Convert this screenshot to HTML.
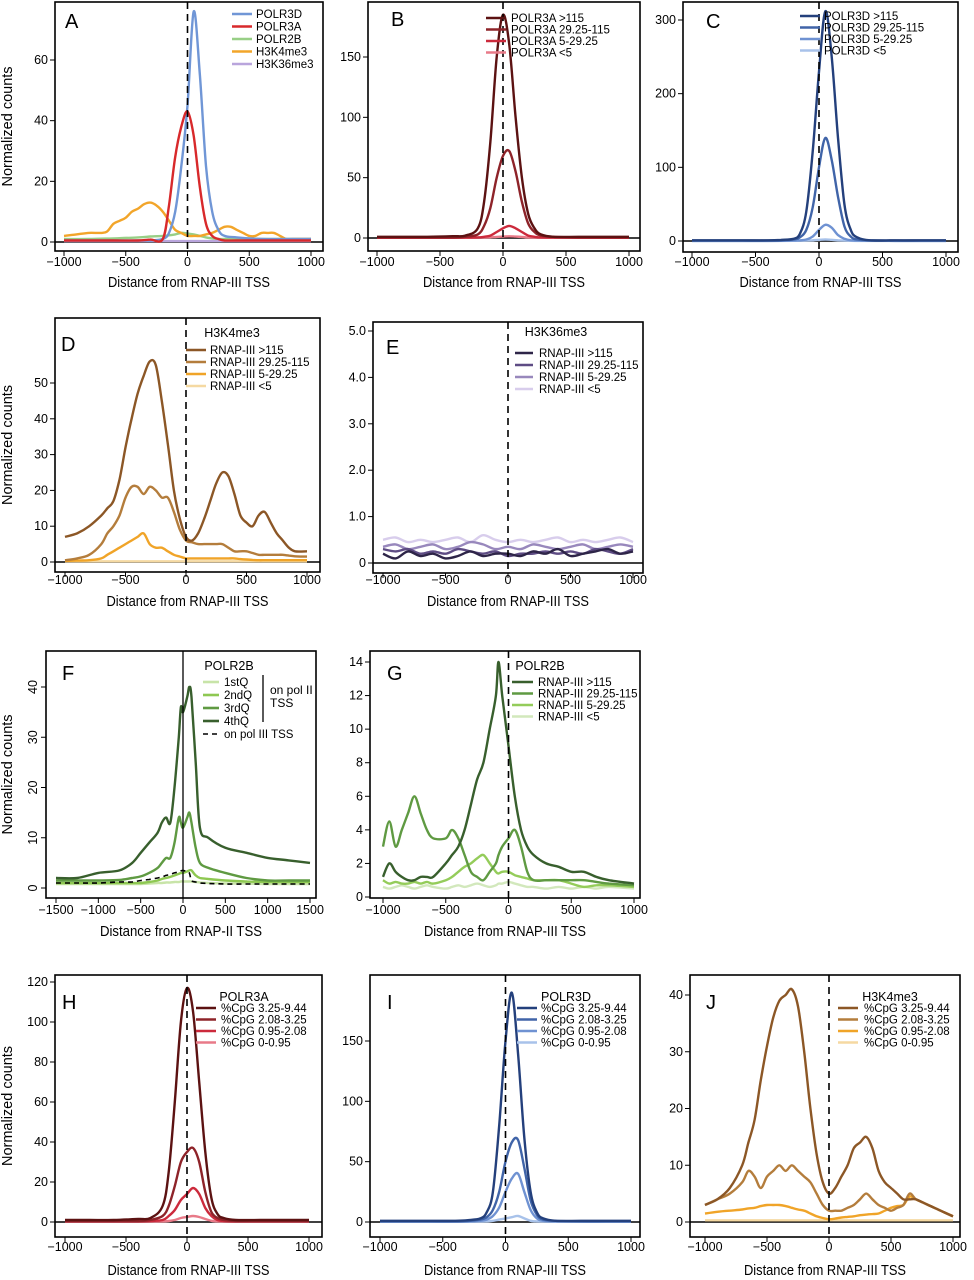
<!DOCTYPE html>
<html><head><meta charset="utf-8">
<style>
body{margin:0;background:#fff;}
svg{display:block;font-family:"Liberation Sans",Arial,sans-serif;}
</style></head>
<body>
<svg id="fig" width="974" height="1280" viewBox="0 0 974 1280" xmlns="http://www.w3.org/2000/svg"></svg>
<script>
// ---------- data ----------
const xPk = [-1000,-800,-600,-400,-300,-200,-150,-100,-50,0,50,100,150,200,250,300,400,600,800,1000];
const xBroad = [-1000,-900,-800,-700,-650,-600,-550,-500,-450,-400,-350,-300,-250,-200,-150,-100,-50,0,50,100,150,200,250,300,350,400,450,500,550,600,650,700,750,800,850,900,1000];
const xNoise = [-1000,-900,-800,-700,-600,-500,-400,-300,-200,-100,0,100,200,300,400,500,600,700,800,900,1000];
const xF = [-1500,-1250,-1000,-750,-600,-500,-400,-300,-250,-200,-150,-100,-50,-25,0,50,75,100,150,200,300,500,750,1000,1250,1500];
const xG = [-1000,-950,-900,-850,-800,-750,-700,-650,-600,-500,-450,-400,-350,-300,-250,-200,-150,-100,-80,-50,0,50,100,150,200,300,400,500,600,700,800,1000];

// A
const aPolr3d = [0.5,0.5,0.5,0.5,0.5,1,3,10,25,45,76,55,25,10,4,2,1.5,1,1,1];
const aPolr3a = [0.5,0.5,0.5,0.5,0.8,1,12,28,38,43,35,18,6,2,1,0.5,0.5,0.5,0.5,0.5];
const aPolr2b = [1,1,1.2,1.5,1.8,2,2.2,2.5,3,2.8,2.5,2,1.5,1.2,1,1,1,1,1,1];
const aH3k4 = [2,2.5,3,3,3.5,6,7,8,10,11,12.5,13,12,10,7,4,3,2,2,2,2.5,3,4,5,5,4,3,2,2,3,3,3,2,1,1,1,1];
const aH3k36 = [0.3,0.3,0.3,0.3,0.3,0.3,0.3,0.3,0.3,0.3,0.3,0.3,0.3,0.3,0.3,0.3,0.3,0.3,0.3,0.3];
// B
const bHi = [1,1,1,1.5,2,8,30,80,150,185,160,100,50,20,8,3,1,1,1,1];
const bMid = [0.5,0.5,0.5,0.5,1,3,10,25,50,68,72,55,30,12,5,2,1,0.5,0.5,0.5];
const bLow = [0.2,0.2,0.2,0.2,0.3,0.5,1,2,5,8,10,8,5,2,1,0.5,0.3,0.2,0.2,0.2];
const bVlow = [0.2,0.2,0.2,0.2,0.2,0.3,0.4,0.6,0.9,1.2,1.4,1.2,0.9,0.5,0.3,0.2,0.2,0.2,0.2,0.2];
// C
const cHi = [1,1,1,1,1.5,3,10,40,120,230,312,250,140,50,15,5,1,1,1,1];
const cMid = [0.5,0.5,0.5,0.5,0.8,2,5,15,45,100,140,110,60,20,6,2,1,0.5,0.5,0.5];
const cLow = [0.2,0.2,0.2,0.2,0.3,0.5,1,2,6,15,22,18,8,3,1,0.5,0.3,0.2,0.2,0.2];
const cVlow = [0.2,0.2,0.2,0.2,0.2,0.3,0.4,0.6,1,1.6,2,1.6,1,0.5,0.3,0.2,0.2,0.2,0.2,0.2];
// D
const dHi = [7,8,10,13,15,17,23,32,40,47,52,56,55,45,33,20,12,7,6,8,12,17,22,25,24,19,13,11,10,13,14,11,8,6,4,3,3];
const dMid = [0.5,1,2,5,8,10,13,18,21,21,19,21,20,18,18,14,9,6,5.5,5,5,5,5,5,4,3,3,3,2.5,2,2,2,2,2,1.8,1.6,1.5];
const dLow = [0.3,0.4,0.5,1,2,3,4,5,6,7,8,5,4,4,3,2,1.5,1,1,1,1,1,1,1,1,1,0.8,0.7,0.6,0.5,0.5,0.5,0.5,0.5,0.5,0.5,0.5];
const dVlow = [0.2,0.2,0.2,0.2,0.2,0.2,0.2,0.2,0.2,0.2,0.2,0.2,0.2,0.2,0.2,0.2,0.2,0.2,0.2,0.2,0.2,0.2,0.2,0.2,0.2,0.2,0.2,0.2,0.2,0.2,0.2,0.2,0.2,0.2,0.2,0.2,0.2];
// E
const eHi = [0.2,0.1,0.25,0.15,0.2,0.1,0.15,0.25,0.15,0.2,0.2,0.15,0.25,0.2,0.3,0.15,0.2,0.25,0.3,0.2,0.25];
const eMid = [0.3,0.25,0.3,0.2,0.25,0.2,0.3,0.25,0.2,0.25,0.15,0.2,0.2,0.25,0.2,0.25,0.2,0.3,0.25,0.2,0.3];
const eLow = [0.35,0.4,0.3,0.35,0.4,0.3,0.35,0.45,0.4,0.3,0.35,0.3,0.4,0.35,0.3,0.35,0.4,0.3,0.35,0.4,0.35];
const eVlow = [0.5,0.55,0.45,0.5,0.45,0.5,0.55,0.45,0.6,0.5,0.45,0.5,0.45,0.5,0.55,0.45,0.5,0.45,0.5,0.55,0.45];
// F
const f4 = [2,2,3,3.5,5,7,9,11,13,14,13,20,30,36,35,38,40,38,25,12,10,8,7,6,5.5,5];
const f3 = [1.5,1.5,1.5,1.6,2,2.3,3,4,5,6,6,9,14,13,12,14,15,13,8,5,4,3,2,1.5,1.5,1.5];
const f2 = [1,1,1,1,1,1,1.2,1.5,1.8,2,2.2,2.5,2.8,3,3,3.3,3.5,3.5,2.5,2,1.8,1.5,1.3,1.2,1.2,1.2];
const f1 = [0.8,0.8,0.8,0.8,0.8,0.8,0.9,1,1,1.1,1.1,1.2,1.2,1.3,1.3,1.3,1.3,1.3,1.2,1.1,1,0.9,0.9,0.8,0.8,0.8];
const fIII = [1,1,1,1.2,1.2,1.5,1.7,2,2.2,2.5,2.7,3,3.2,3.4,3.5,3.2,3,1.5,1.2,1,0.9,0.8,0.8,0.8,0.8,0.8];
// G
const gHi = [1.2,2,1.5,1.2,1,1,1.2,1.2,1.2,2,2.5,3,4,5.5,7,8,10,12,14,12,9,6,4,3,2.5,2,1.8,1.5,1.5,1.2,1,0.8];
const gMid = [3,4.5,3,4,5,6,5,4,3.5,3.5,4,3.5,2.5,1.5,1.2,1,1.5,2,2.5,3,3.5,4,3,1.5,1,1,1,1,1,0.9,0.8,0.7];
const gLow = [1,0.8,0.9,0.8,0.8,0.9,0.8,0.9,0.8,1,1.2,1.5,1.8,2,2.3,2.5,2,1.5,1.4,1.5,1.5,1.3,1.2,1.1,1,1,1,0.8,0.6,0.7,0.7,0.6];
const gVlow = [0.6,0.5,0.6,0.7,0.6,0.5,0.6,0.7,0.6,0.5,0.6,0.7,0.6,0.7,0.8,0.7,0.6,0.7,0.8,0.8,0.9,0.8,0.7,0.6,0.6,0.5,0.6,0.5,0.6,0.5,0.6,0.5];
// H
const hHi = [1,1,1,1.5,2,8,25,60,100,117,105,70,35,12,4,2,1,1,1,1];
const hMid = [0.5,0.5,0.5,0.5,1,3,8,18,30,35,37,30,15,5,2,1,0.5,0.5,0.5,0.5];
const hLow = [0.3,0.3,0.3,0.3,0.5,1,3,6,11,14,17,14,7,3,1,0.5,0.3,0.3,0.3,0.3];
const hVlow = [0.2,0.2,0.2,0.2,0.2,0.3,0.5,1,2,2.5,3,2.5,1.5,0.6,0.3,0.2,0.2,0.2,0.2,0.2];
// I
const iHi = [1,1,1,1,1.5,3,8,25,80,150,190,140,70,25,8,3,1,1,1,1];
const iMid = [0.5,0.5,0.5,0.5,0.8,2,4,10,25,50,66,68,45,18,6,2,1,0.5,0.5,0.5];
const iLow = [0.3,0.3,0.3,0.3,0.5,1,2,5,12,25,36,40,25,10,3,1,0.5,0.3,0.3,0.3];
const iVlow = [0.2,0.2,0.2,0.2,0.2,0.3,0.5,1,2,3,4,5,3,1,0.5,0.3,0.2,0.2,0.2,0.2];
// J
const jHi = [3,4,6,10,14,18,25,31,36,39,40,41,38,30,20,12,7,5,6,8,10,13,14,15,13,9,7,6,5,4,4,4,3.5,3,2.5,2,1];
const jMid = [3,4,5,7,9,8,6,8,9,10,9,10,9,8,7,5,3,2,2,2,2.5,3,4,5,4,3,2.5,2,2.5,3,5,4,3.5,3,2.5,2,1];
const jLow = [1.5,1.8,2,2.2,2.4,2.5,2.8,3,3,3,2.8,2.5,2.2,2,1.5,1,0.7,0.5,0.6,0.8,0.9,1,1.2,1.3,1.4,1.5,2,2.5,2.8,3,4.5,4,3.5,3,2.5,2,1];
const jVlow = [0.3,0.3,0.3,0.3,0.3,0.3,0.3,0.3,0.3,0.3,0.3,0.3,0.3,0.3,0.3,0.3,0.3,0.3,0.3,0.3,0.3,0.3,0.3,0.3,0.3,0.3,0.3,0.3,0.3,0.3,0.3,0.3,0.3,0.3,0.3,0.3,0.3];

// tick labels
const xTicksPol3 = ["−1000","−500","0","500","1000"];
const xTickValsPol3 = [-1000,-500,0,500,1000];
const xTicksF = ["−1500","−1000","−500","0","500","1000","1500"];
const xTickValsF = [-1500,-1000,-500,0,500,1000,1500];

// ---------- drawing ----------
const NS = "http://www.w3.org/2000/svg";
const svg = document.getElementById("fig");
function mk(tag, attrs, parent, text) {
  const e = document.createElementNS(NS, tag);
  for (const k in attrs) e.setAttribute(k, attrs[k]);
  if (text !== undefined) e.textContent = text;
  (parent || svg).appendChild(e);
  return e;
}
function smoothPath(pts) {
  let d = "M" + pts[0][0].toFixed(1) + "," + pts[0][1].toFixed(1);
  for (let i = 0; i < pts.length - 1; i++) {
    const p0 = pts[Math.max(0, i - 1)], p1 = pts[i], p2 = pts[i + 1], p3 = pts[Math.min(pts.length - 1, i + 2)];
    const c1x = p1[0] + (p2[0] - p0[0]) / 6, c1y = p1[1] + (p2[1] - p0[1]) / 6;
    const c2x = p2[0] - (p3[0] - p1[0]) / 6, c2y = p2[1] - (p3[1] - p1[1]) / 6;
    d += "C" + c1x.toFixed(1) + "," + c1y.toFixed(1) + " " + c2x.toFixed(1) + "," + c2y.toFixed(1) + " " + p2[0].toFixed(1) + "," + p2[1].toFixed(1);
  }
  return d;
}

const panels = [
 {id:"a", letter:"A", L:[65,10], box:[55,2,323,251], xd:[-1000,1000], xp:[64,311], yd:[0,60], yp:[242,60],
  yt:[0,20,40,60], ytl:["0","20","40","60"], xt:xTickValsPol3, xtl:xTicksPol3, tickY:266, titleY:287, xtitle:"Distance from RNAP-III TSS",
  ytitle:true, vline:"dash", hline:true,
  series:[["polr2b",xPk,aPolr2b,"#98cf86"],["h3k36me3",xPk,aH3k36,"#b9a5dc"],["h3k4me3",xBroad,aH3k4,"#f2a52a"],["polr3d",xPk,aPolr3d,"#7096d6"],["polr3a",xPk,aPolr3a,"#d8292b"]],
  legend:{x1:232,x2:252,tx:256,y:14,dy:12.5,items:[["POLR3D","#7096d6"],["POLR3A","#d8292b"],["POLR2B","#98cf86"],["H3K4me3","#f2a52a"],["H3K36me3","#b9a5dc"]]}},
 {id:"b", letter:"B", L:[391,8], box:[368,2,640,251], xd:[-1000,1000], xp:[377,629], yd:[0,150], yp:[238,57],
  yt:[0,50,100,150], ytl:["0","50","100","150"], xt:xTickValsPol3, xtl:xTicksPol3, tickY:266, titleY:287, xtitle:"Distance from RNAP-III TSS",
  vline:"dash", hline:true,
  series:[["vlow",xPk,bVlow,"#e87a88"],["low",xPk,bLow,"#cc2a3c"],["mid",xPk,bMid,"#8e2329"],["hi",xPk,bHi,"#5c1212"]],
  legend:{x1:486,x2:506,tx:511,y:18,dy:11.5,items:[["POLR3A >115","#5c1212"],["POLR3A 29.25-115","#8e2329"],["POLR3A 5-29.25","#cc2a3c"],["POLR3A <5","#e87a88"]]}},
 {id:"c", letter:"C", L:[706,10], box:[683,2,958,252], xd:[-1000,1000], xp:[692,946], yd:[0,300], yp:[241,20],
  yt:[0,100,200,300], ytl:["0","100","200","300"], xt:xTickValsPol3, xtl:xTicksPol3, tickY:266, titleY:287, xtitle:"Distance from RNAP-III TSS",
  vline:"dash", hline:true,
  series:[["vlow",xPk,cVlow,"#a8c2ea"],["low",xPk,cLow,"#6f92d2"],["mid",xPk,cMid,"#4064a8"],["hi",xPk,cHi,"#24407c"]],
  legend:{x1:800,x2:820,tx:824,y:16,dy:11.5,items:[["POLR3D >115","#24407c"],["POLR3D 29.25-115","#4064a8"],["POLR3D 5-29.25","#6f92d2"],["POLR3D <5","#a8c2ea"]]}},
 {id:"d", letter:"D", L:[61,333], box:[55,318,320,572], xd:[-1000,1000], xp:[65,307], yd:[0,50], yp:[562,383],
  yt:[0,10,20,30,40,50], ytl:["0","10","20","30","40","50"], xt:xTickValsPol3, xtl:xTicksPol3, tickY:584, titleY:606, xtitle:"Distance from RNAP-III TSS",
  ytitle:true, vline:"dash", hline:true, title:["H3K4me3",232,332],
  series:[["vlow",xBroad,dVlow,"#f5d9a2"],["low",xBroad,dLow,"#f0a428"],["mid",xBroad,dMid,"#b47d3c"],["hi",xBroad,dHi,"#8c5726"]],
  legend:{x1:186,x2:206,tx:210,y:350,dy:12,items:[["RNAP-III >115","#8c5726"],["RNAP-III 29.25-115","#b47d3c"],["RNAP-III 5-29.25","#f0a428"],["RNAP-III <5","#f5d9a2"]]}},
 {id:"e", letter:"E", L:[386,336], box:[373,322,643,573], xd:[-1000,1000], xp:[383,633], yd:[0,5], yp:[563,331],
  yt:[0,1,2,3,4,5], ytl:["0","1.0","2.0","3.0","4.0","5.0"], xt:xTickValsPol3, xtl:xTicksPol3, tickY:584, titleY:606, xtitle:"Distance from RNAP-III TSS",
  vline:"dash", hline:true, title:["H3K36me3",556,331],
  series:[["vlow",xNoise,eVlow,"#d8cdec"],["low",xNoise,eLow,"#9888bc"],["mid",xNoise,eMid,"#5e4c84"],["hi",xNoise,eHi,"#2e2548"]],
  legend:{x1:515,x2:533,tx:539,y:353,dy:12,items:[["RNAP-III >115","#2e2548"],["RNAP-III 29.25-115","#5e4c84"],["RNAP-III 5-29.25","#9888bc"],["RNAP-III <5","#d8cdec"]]}},
 {id:"f", letter:"F", L:[62,662], box:[46,651,316,898], xd:[-1500,1500], xp:[56,310], yd:[0,40], yp:[888,687],
  yt:[0,10,20,30,40], ytl:["0","10","20","30","40"], rotY:true, xt:xTickValsF, xtl:xTicksF, tickY:914, titleY:936, xtitle:"Distance from RNAP-II TSS",
  ytitle:true, vline:"solid", title:["POLR2B",229,665],
  series:[["q1",xF,f1,"#c8e4a8"],["q2",xF,f2,"#8ec852"],["q3",xF,f3,"#5f9a42"],["q4",xF,f4,"#385f2d"],["pol3tss",xF,fIII,"#000",true]],
  legend:{x1:203,x2:219,tx:224,y:682,dy:13,items:[["1stQ","#c8e4a8"],["2ndQ","#8ec852"],["3rdQ","#5f9a42"],["4thQ","#385f2d"]]}},
 {id:"g", letter:"G", L:[387,662], box:[370,651,640,898], xd:[-1000,1000], xp:[383,634], yd:[0,14], yp:[897,662],
  yt:[0,2,4,6,8,10,12,14], ytl:["0","2","4","6","8","10","12","14"], xt:xTickValsPol3, xtl:xTicksPol3, tickY:914, titleY:936, xtitle:"Distance from RNAP-III TSS",
  vline:"dash", title:["POLR2B",540,665],
  series:[["vlow",xG,gVlow,"#d2e8bc"],["low",xG,gLow,"#94cc5a"],["mid",xG,gMid,"#5f9a42"],["hi",xG,gHi,"#385f2d"]],
  legend:{x1:512,x2:533,tx:538,y:682,dy:11.5,items:[["RNAP-III >115","#385f2d"],["RNAP-III 29.25-115","#5f9a42"],["RNAP-III 5-29.25","#94cc5a"],["RNAP-III <5","#d2e8bc"]]}},
 {id:"h", letter:"H", L:[62,991], box:[55,975,322,1237], xd:[-1000,1000], xp:[65,309], yd:[0,100], yp:[1222,1022],
  yt:[0,20,40,60,80,100,120], ytl:["0","20","40","60","80","100","120"], xt:xTickValsPol3, xtl:xTicksPol3, tickY:1251, titleY:1275, xtitle:"Distance from RNAP-III TSS",
  ytitle:true, vline:"dash", hline:true, title:["POLR3A",244,996],
  series:[["vlow",xPk,hVlow,"#e87a88"],["low",xPk,hLow,"#cc2a3c"],["mid",xPk,hMid,"#8e2329"],["hi",xPk,hHi,"#5c1212"]],
  legend:{x1:196,x2:216,tx:221,y:1008,dy:11.5,items:[["%CpG 3.25-9.44","#5c1212"],["%CpG 2.08-3.25","#8e2329"],["%CpG 0.95-2.08","#cc2a3c"],["%CpG 0-0.95","#e87a88"]]}},
 {id:"i", letter:"I", L:[387,991], box:[370,975,640,1237], xd:[-1000,1000], xp:[380,631], yd:[0,150], yp:[1222,1041],
  yt:[0,50,100,150], ytl:["0","50","100","150"], xt:xTickValsPol3, xtl:xTicksPol3, tickY:1251, titleY:1275, xtitle:"Distance from RNAP-III TSS",
  vline:"dash", hline:true, title:["POLR3D",566,996],
  series:[["vlow",xPk,iVlow,"#a8c2ea"],["low",xPk,iLow,"#6f92d2"],["mid",xPk,iMid,"#4064a8"],["hi",xPk,iHi,"#24407c"]],
  legend:{x1:517,x2:537,tx:541,y:1008,dy:11.5,items:[["%CpG 3.25-9.44","#24407c"],["%CpG 2.08-3.25","#4064a8"],["%CpG 0.95-2.08","#6f92d2"],["%CpG 0-0.95","#a8c2ea"]]}},
 {id:"j", letter:"J", L:[706,991], box:[690,975,960,1237], xd:[-1000,1000], xp:[705,953], yd:[0,40], yp:[1222,995],
  yt:[0,10,20,30,40], ytl:["0","10","20","30","40"], xt:xTickValsPol3, xtl:xTicksPol3, tickY:1251, titleY:1275, xtitle:"Distance from RNAP-III TSS",
  vline:"dash", hline:true, title:["H3K4me3",890,996],
  series:[["vlow",xBroad,jVlow,"#f5d9a2"],["low",xBroad,jLow,"#f0a428"],["mid",xBroad,jMid,"#b47d3c"],["hi",xBroad,jHi,"#8c5726"]],
  legend:{x1:838,x2:858,tx:864,y:1008,dy:11.5,items:[["%CpG 3.25-9.44","#8c5726"],["%CpG 2.08-3.25","#b47d3c"],["%CpG 0.95-2.08","#f0a428"],["%CpG 0-0.95","#f5d9a2"]]}}
];

panels.forEach(p => {
  const g = mk("g", {});
  
  
  const sx = v => p.xp[0] + (v - p.xd[0]) / (p.xd[1] - p.xd[0]) * (p.xp[1] - p.xp[0]);
  const sy = v => p.yp[0] + (v - p.yd[0]) / (p.yd[1] - p.yd[0]) * (p.yp[1] - p.yp[0]);
  const [l, t, r, b] = p.box;
  if (p.hline) {
    const hl = mk("line", {x1: l, x2: r, y1: sy(0), y2: sy(0), stroke: "#000", "stroke-width": 1.6}, g);
    
    
  }
  p.series.forEach(s => {
    const [nm, xs, ys, col, dashed] = s;
    const pts = xs.map((x, i) => [sx(x), sy(ys[i])]);
    const path = mk("path", {d: smoothPath(pts), fill: "none", stroke: col, "stroke-width": dashed ? 1.6 : 2.4, "stroke-linejoin": "round", "stroke-dasharray": dashed ? "5,4" : "none"}, g);
    
    
  });
  if (p.vline) {
    const vl = mk("line", {x1: sx(0), x2: sx(0), y1: t, y2: b, stroke: "#000", "stroke-width": p.vline === "dash" ? 1.6 : 1.3, "stroke-dasharray": p.vline === "dash" ? "7,5" : "none"}, g);
    
    
  }
  const bx = mk("rect", {x: l, y: t, width: r - l, height: b - t, fill: "none", stroke: "#000", "stroke-width": 1.6}, g);
  
  
  const xa = mk("g", {}, g);
  
  
  p.xt.forEach((v, i) => {
    mk("line", {x1: sx(v), x2: sx(v), y1: b, y2: b + 5, stroke: "#000", "stroke-width": 1}, xa);
    const tx = mk("text", {x: sx(v), y: p.tickY, "text-anchor": "middle", "font-size": 12.5}, xa, p.xtl[i]);
    
    
  });
  const xt = mk("text", {x: (l + r) / 2, y: p.titleY, "text-anchor": "middle", "font-size": 14.5, textLength: 162, lengthAdjust: "spacingAndGlyphs"}, g, p.xtitle);
  
  
  const ya = mk("g", {}, g);
  
  
  p.yt.forEach((v, i) => {
    mk("line", {x1: l - 5, x2: l, y1: sy(v), y2: sy(v), stroke: "#000", "stroke-width": 1}, ya);
    let tx;
    if (p.rotY) tx = mk("text", {x: l - 9, y: sy(v), "text-anchor": "middle", "font-size": 12.5, transform: "rotate(-90 " + (l - 9) + " " + sy(v) + ")"}, ya, p.ytl[i]);
    else tx = mk("text", {x: l - 7, y: sy(v) + 4, "text-anchor": "end", "font-size": 12.5}, ya, p.ytl[i]);
    
    
  });
  if (p.ytitle) {
    const cy = (t + b) / 2;
    const yt = mk("text", {x: 12, y: cy, "text-anchor": "middle", "font-size": 14.5, transform: "rotate(-90 12 " + cy + ")"}, g, "Normalized counts");
    
    
  }
  const lt = mk("text", {x: p.L[0], y: p.L[1] + 18, "font-size": 20}, g, p.letter);
  
  
  if (p.title) {
    const tt = mk("text", {x: p.title[1], y: p.title[2] + 5, "text-anchor": "middle", "font-size": 12.5}, g, p.title[0]);
    
    
  }
  const lg = mk("g", {}, g);
  
  
  p.legend.items.forEach((it, i) => {
    const y = p.legend.y + i * p.legend.dy;
    const en = mk("g", {}, lg);
    
    
    mk("line", {x1: p.legend.x1, x2: p.legend.x2, y1: y, y2: y, stroke: it[1], "stroke-width": 2.6}, en);
    mk("text", {x: p.legend.tx, y: y + 4, "font-size": 11.5}, en, it[0]);
  });
  if (p.id === "f") {
    const ex = mk("g", {}, lg);
    
    
    mk("line", {x1: 263, x2: 263, y1: 675, y2: 722, stroke: "#000", "stroke-width": 1.3}, ex);
    mk("text", {x: 270, y: 694, "font-size": 12}, ex, "on pol II");
    mk("text", {x: 270, y: 707, "font-size": 12}, ex, "TSS");
    mk("line", {x1: 203, x2: 219, y1: 734, y2: 734, stroke: "#000", "stroke-width": 1.6, "stroke-dasharray": "5,4"}, ex);
    mk("text", {x: 224, y: 738, "font-size": 11.5}, ex, "on pol III TSS");
  }
});
</script>
</body></html>
